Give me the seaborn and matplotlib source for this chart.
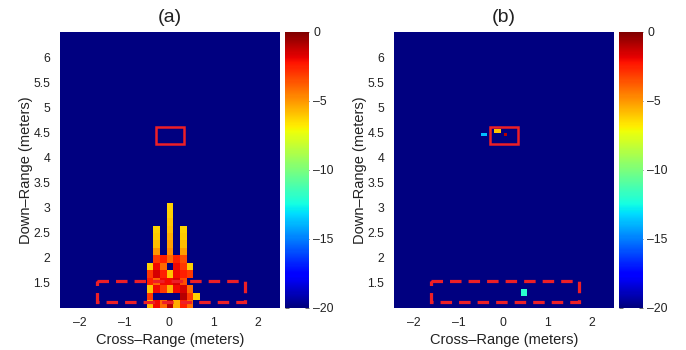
import numpy as np
import pandas as pd
import matplotlib
matplotlib.use("Agg")
import matplotlib.pyplot as plt
import seaborn as sns
from matplotlib.patches import Rectangle

# ---------------- data ----------------
titles = ["(a)", "(b)"]
x_label = "Cross\u2013Range (meters)"
y_label = "Down\u2013Range (meters)"
x_ticks = [-2, -1, 0, 1, 2]
y_ticks = [1.5, 2, 2.5, 3, 3.5, 4, 4.5, 5, 5.5, 6]
cbar_ticks = [0, -5, -10, -15, -20]
floor_db = -20.0
top_db = 0.0

# scene extent (meters)
x_range = [-2.45, 2.5]
y_range = [1.0, 6.5]

# panel (a): patch of bright cells near the bottom (dB), NaN = floor
a_cols_x = [-0.425, -0.275, -0.125, 0.025, 0.175, 0.325, 0.475, 0.625]
a_rows_y = [3.01, 2.86, 2.71, 2.56, 2.41, 2.26, 2.11, 1.97, 1.82, 1.67, 1.52, 1.37, 1.22, 1.07]
N = np.nan
a_patch = [
    [N,    N,    N,    -6.3, N,    N,    N,    N],
    [N,    N,    N,    -6.2, N,    N,    N,    N],
    [N,    N,    N,    -6.0, N,    N,    N,    N],
    [N,    -6.3, N,    -5.8, N,    -6.3, N,    N],
    [N,    -6.1, N,    -5.5, N,    -6.1, N,    N],
    [N,    -5.8, N,    -5.2, N,    -5.8, N,    N],
    [N,    -5.0, N,    -4.8, N,    -5.2, N,    N],
    [N,    -3.0, -2.5, -4.0, -2.5, -3.5, N,    N],
    [-6.2, -2.0, -4.0, N,    -2.0, -3.0, -6.2, N],
    [-3.0, -1.5, -2.5, -6.0, -2.0, -2.5, -3.0, N],
    [-2.5, -4.0, -2.0, -2.0, -1.5, -3.5, N,    N],
    [-6.0, -2.0, -3.0, -5.5, -2.0, -1.5, -4.0, N],
    [-3.0, N,    N,    N,    N,    -1.0, -3.0, -6.2],
    [-5.8, -2.0, -4.0, -1.0, -5.5, -2.5, -4.2, N],
]

# panel (b): isolated cells (x, y in meters, value in dB)
b_x = [-0.46, -0.39, -0.16, -0.09, 0.06, 0.44, 0.51, 0.44, 0.51]
b_y = [4.45, 4.45, 4.52, 4.52, 4.45, 1.26, 1.26, 1.33, 1.33]
b_val = [-13.8, -13.8, -6.0, -6.0, -1.0, -12.0, -12.0, -12.0, -12.0]

# target regions (meters): [x0, x1, y0, y1]
target_box = [-0.28, 0.35, 4.27, 4.60]
wall_box = [-1.62, 1.72, 1.10, 1.53]

# ---------------- styling ----------------
sns.set_theme(style="white")
plt.rcParams["font.family"] = ["Liberation Sans", "DejaVu Sans"]
text_col = "#222222"
red = (0.93, 0.12, 0.15)

W, H = 686, 350
fig = plt.figure(figsize=(W / 100, H / 100), dpi=100)

def fr(x0, x1, y0, y1):
    return [x0 / W, 1 - y1 / H, (x1 - x0) / W, (y1 - y0) / H]

ax_pos = [fr(60, 280, 32, 307.5), fr(394, 614, 32, 307.5)]
cax_pos = [fr(285, 309, 32, 307.5), fr(618.5, 643, 32, 307.5)]


def make_grid(nx, ny):
    return np.full((ny, nx), floor_db)


def cell_index(x, y, nx, ny):
    dx = (x_range[1] - x_range[0]) / nx
    dy = (y_range[1] - y_range[0]) / ny
    return int((y_range[1] - y) / dy), int((x - x_range[0]) / dx)


# grid (a)
nxa, nya = 33, 37
grid_a = make_grid(nxa, nya)
for ri, yv in enumerate(a_rows_y):
    for ci, xv in enumerate(a_cols_x):
        v = a_patch[ri][ci]
        if not np.isnan(v):
            r, c = cell_index(xv, yv, nxa, nya)
            grid_a[r, c] = v

# grid (b)
nxb, nyb = 66, 74
grid_b = make_grid(nxb, nyb)
for xv, yv, v in zip(b_x, b_y, b_val):
    r, c = cell_index(xv, yv, nxb, nyb)
    grid_b[r, c] = v

grids = [(grid_a, nxa, nya), (grid_b, nxb, nyb)]


def fmt(v):
    s = f"{v:g}"
    return s.replace("-", "\u2013")


for i, (grid, nx, ny) in enumerate(grids):
    ax = fig.add_axes(ax_pos[i])
    cax = fig.add_axes(cax_pos[i])
    df = pd.DataFrame(grid)
    sns.heatmap(df, ax=ax, cbar_ax=cax, cmap="jet", vmin=floor_db, vmax=top_db,
                xticklabels=False, yticklabels=False)
    dx = (x_range[1] - x_range[0]) / nx
    dy = (y_range[1] - y_range[0]) / ny
    to_c = lambda x: (x - x_range[0]) / dx
    to_r = lambda y: (y_range[1] - y) / dy

    ax.set_xticks([to_c(x) for x in x_ticks])
    ax.set_xticklabels([fmt(x) for x in x_ticks], rotation=0)
    ax.set_yticks([to_r(y) for y in y_ticks])
    ax.set_yticklabels([fmt(y) for y in y_ticks], rotation=0)
    ax.tick_params(axis="both", length=0, labelsize=8.8, colors=text_col, pad=7)
    ax.set_xlabel(x_label, fontsize=10.5, color=text_col, labelpad=3)
    ax.set_ylabel(y_label, fontsize=10.5, color=text_col, labelpad=0)
    ax.set_title(titles[i], fontsize=14, color=text_col, pad=7)

    # boxes
    x0, x1, y0, y1 = target_box
    ax.add_patch(Rectangle((to_c(x0), to_r(y1)), (x1 - x0) / dx, (y1 - y0) / dy,
                           fill=False, edgecolor=red, lw=1.8))
    x0, x1, y0, y1 = wall_box
    ax.add_patch(Rectangle((to_c(x0), to_r(y1)), (x1 - x0) / dx, (y1 - y0) / dy,
                           fill=False, edgecolor=red, lw=2.3,
                           linestyle=(0, (3.6, 2.2))))

    cax.set_yticks(cbar_ticks)
    cax.set_yticklabels([fmt(t) for t in cbar_ticks])
    cax.tick_params(axis="y", which="both", direction="in", length=3, width=0.6,
                    color="#555555", labelsize=8.8, labelcolor=text_col,
                    left=True, right=True, pad=3)
    cax.yaxis.set_ticks_position("both")
    for s in cax.spines.values():
        s.set_visible(False)

fig.savefig("out.png", dpi=100)
